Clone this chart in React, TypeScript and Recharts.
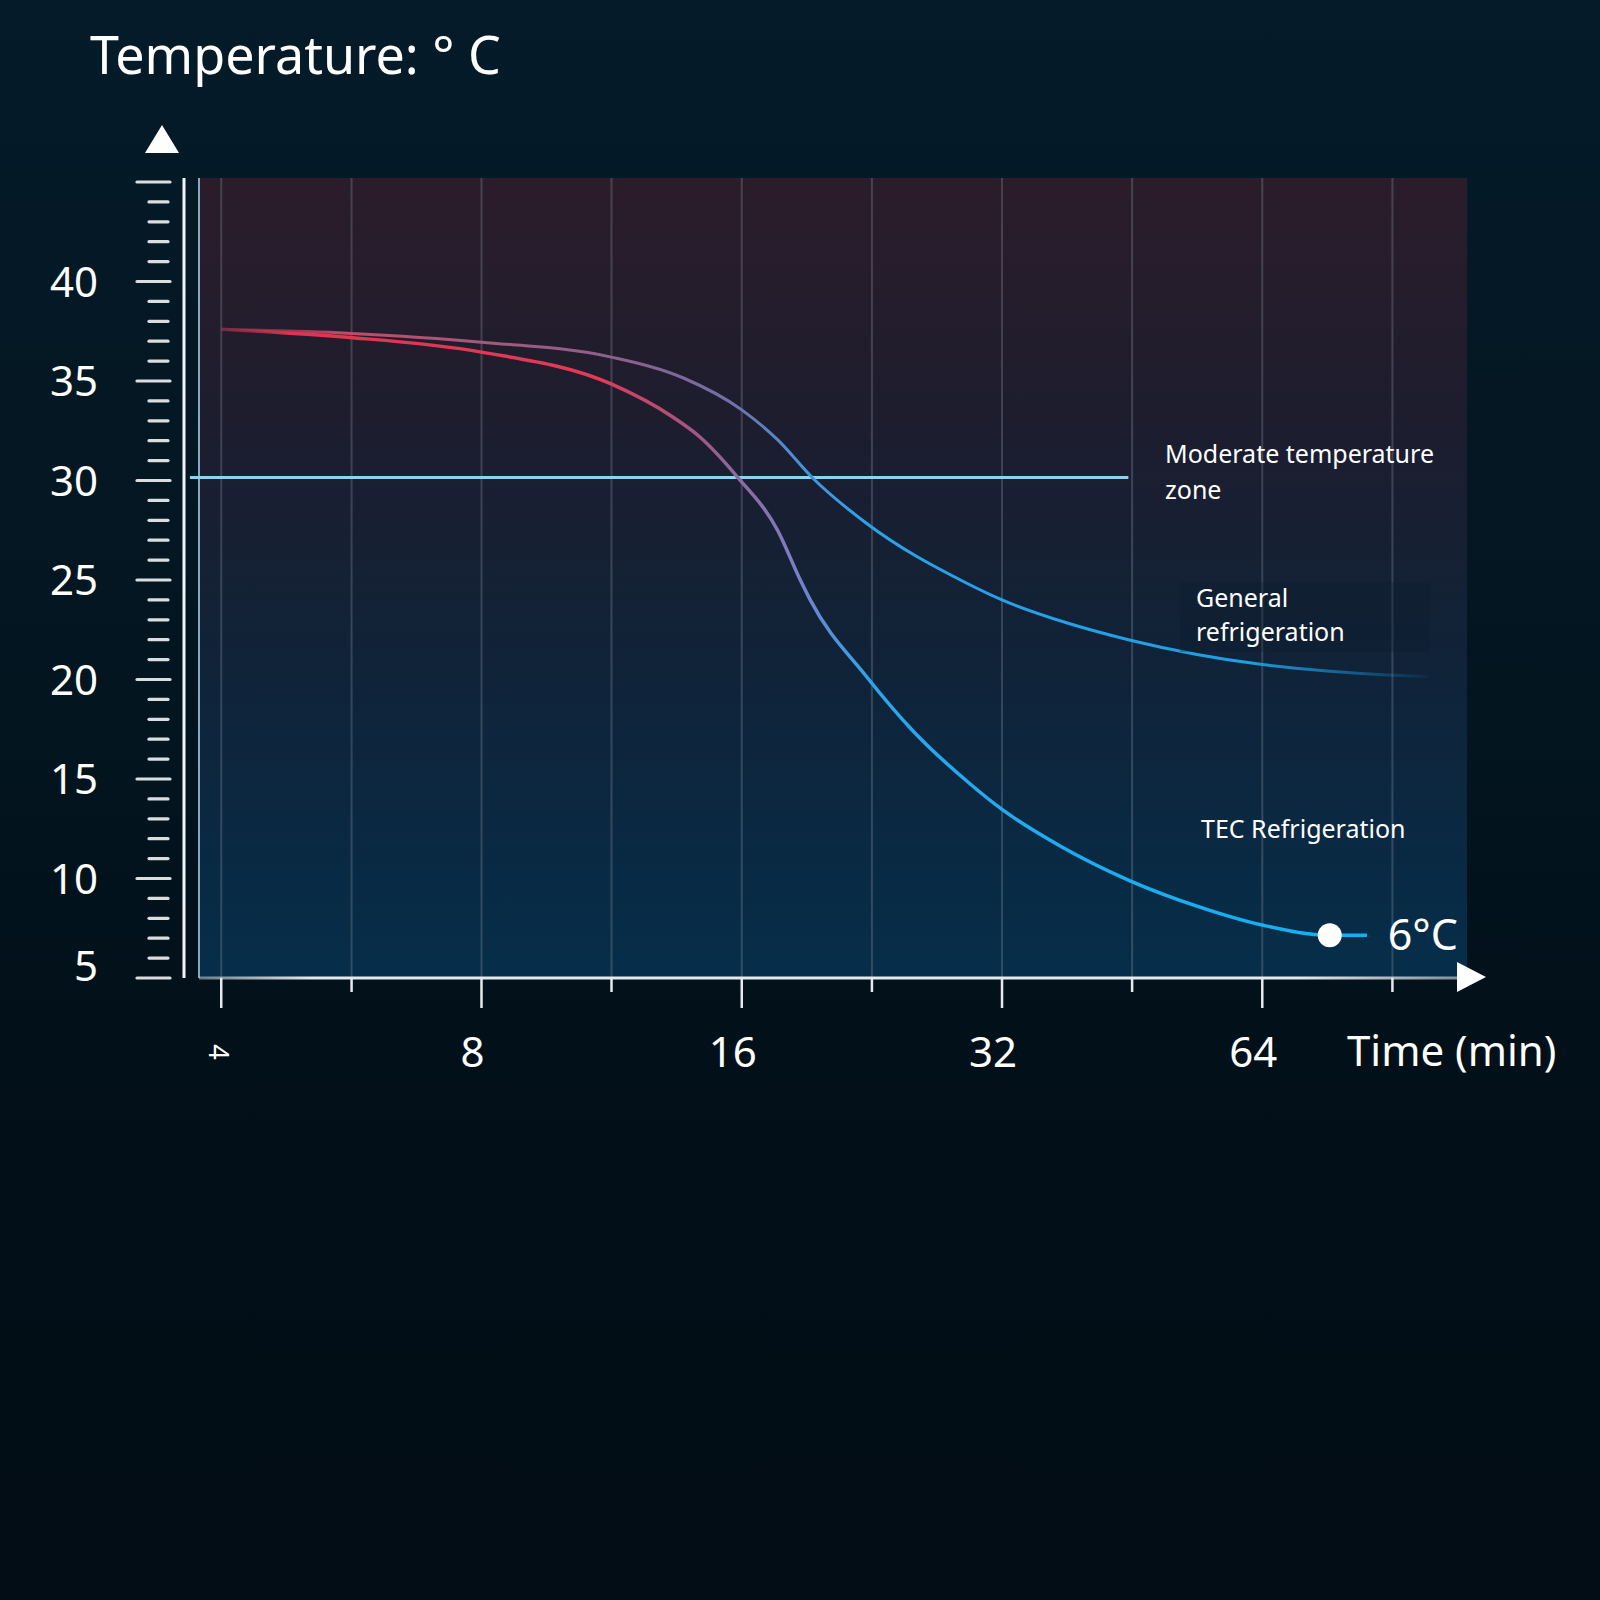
import React from "react";
import {
  ComposedChart,
  Line,
  XAxis,
  YAxis,
  CartesianGrid,
  ReferenceLine,
  ReferenceDot,
} from "recharts";

// TEC refrigeration curve (time in min, temperature in °C)
const tecTime = [4, 5.59, 8, 11.3, 13.3, 14.3, 15.8, 17.6, 18.7, 19.2, 22.3, 25.2, 29.4, 32, 37.4, 44.8, 54.2, 64, 76.6, 84.6];
const tecTemp = [37.6, 37.2, 36.45, 34.85, 33.2, 32.2, 30.2, 27.5, 25.0, 24.0, 20.15, 17.45, 14.75, 13.47, 11.62, 9.92, 8.56, 7.66, 7.15, 7.15];

// general refrigeration curve
const generalTime = [4, 5.59, 8, 11.3, 13.7, 16, 17.6, 19.3, 22.3, 29.1, 32, 38, 44.8, 64, 76, 89.4, 99.6];
const generalTemp = [37.6, 37.4, 36.95, 36.2, 35.15, 33.55, 32.05, 30.15, 27.85, 24.85, 24.0, 22.85, 22.0, 20.75, 20.43, 20.23, 20.15];

const timeTicks = [4, 5.66, 8, 11.31, 16, 22.63, 32, 45.25, 64, 90.51];
const timeLabels = [4, 8, 16, 32, 64];
const tempLabels = [5, 10, 15, 20, 25, 30, 35, 40];
const gridTemps = [10, 15, 20, 25, 30, 35, 40];
const rulerTicks = Array.from({ length: 41 }, (_, i) => 5 + i);

const moderateZone = 30.15;
const zoneEnd = 44.8;
const finalPoint = { t: 76.6, v: 7.15, label: "6°C" };

const FONT = "'Noto Sans', sans-serif";

const tecData = tecTime.map((t, i) => ({ t, v: tecTemp[i] }));
const generalData = generalTime.map((t, i) => ({ t, v: generalTemp[i] }));

const TimeTick = (props: any) => {
  const { x, y, payload } = props;
  const v = payload.value;
  const major = timeLabels.includes(v);
  return (
    <g>
      <line x1={x} x2={x} y1={y} y2={y + (major ? 30 : 14)} stroke="#e6eaee" strokeWidth={2.5} />
      {major && v === 4 && (
        <text
          transform={`translate(${x - 3},${y + 74}) rotate(90)`}
          textAnchor="middle"
          dy="0.36em"
          fontSize={27}
          fill="#fff"
          fontFamily={FONT}
        >
          {v}
        </text>
      )}
      {major && v !== 4 && (
        <text x={x - 9} y={y + 74} dy="0.36em" textAnchor="middle" fontSize={42} fill="#fff" fontFamily={FONT}>
          {v}
        </text>
      )}
    </g>
  );
};

const RulerTick = (props: any) => {
  const { x, y, payload } = props;
  const v = payload.value;
  const major = v % 5 === 0;
  return (
    <g>
      <line
        x1={x - (major ? 47 : 35)}
        x2={x - (major ? 14 : 16)}
        y1={y}
        y2={y}
        stroke="#d9dee3"
        strokeWidth={3.2}
        strokeLinecap="round"
      />
      {tempLabels.includes(v) && (
        <text
          x={x - 86}
          y={y + (v === 5 ? -12 : 0)}
          dy="0.36em"
          textAnchor="end"
          fontSize={42}
          fill="#fff"
          fontFamily={FONT}
        >
          {v}
        </text>
      )}
    </g>
  );
};

export default function App() {
  return (
    <div
      style={{
        position: "absolute",
        left: 0,
        top: 0,
        width: 1600,
        height: 1600,
        background: "linear-gradient(180deg, #051b29 0%, #03151f 45%, #020f18 70%, #020d15 100%)",
        fontFamily: FONT,
      }}
    >
      <ComposedChart
        width={1600}
        height={1600}
        margin={{ top: 178, right: 133, bottom: 0, left: 0 }}
      >
        <defs>
          <linearGradient id="plotBg" x1="0" y1="0" x2="0" y2="1">
            <stop offset="0%" stopColor="#2b1c2a" />
            <stop offset="30%" stopColor="#1d1d2e" />
            <stop offset="62%" stopColor="#0f2339" />
            <stop offset="100%" stopColor="#062e4a" />
          </linearGradient>
          <linearGradient id="tecGrad" x1="0" y1="0" x2="1" y2="0">
            <stop offset="0%" stopColor="#c83050" stopOpacity={0.3} />
            <stop offset="6%" stopColor="#e0344f" />
            <stop offset="33%" stopColor="#e23a58" />
            <stop offset="42%" stopColor="#9b5a86" />
            <stop offset="50%" stopColor="#7c7ec4" />
            <stop offset="57%" stopColor="#2aa6ec" />
            <stop offset="100%" stopColor="#0fb2f6" />
          </linearGradient>
          <linearGradient id="generalGrad" x1="0" y1="0" x2="1" y2="0">
            <stop offset="0%" stopColor="#b04060" stopOpacity={0.3} />
            <stop offset="10%" stopColor="#c24a68" />
            <stop offset="22%" stopColor="#a15a7c" />
            <stop offset="35%" stopColor="#86638f" />
            <stop offset="42%" stopColor="#7270a8" />
            <stop offset="48%" stopColor="#4a90d8" />
            <stop offset="53%" stopColor="#2ca2ea" />
            <stop offset="85%" stopColor="#1e9ee4" />
            <stop offset="100%" stopColor="#1e9ee4" stopOpacity={0.05} />
          </linearGradient>
          <linearGradient id="xAxisGrad" gradientUnits="userSpaceOnUse" x1="150" y1="0" x2="1500" y2="0">
            <stop offset="0%" stopColor="#ffffff" stopOpacity={0.2} />
            <stop offset="12%" stopColor="#ffffff" stopOpacity={0.9} />
            <stop offset="85%" stopColor="#ffffff" stopOpacity={0.9} />
            <stop offset="100%" stopColor="#ffffff" stopOpacity={0.4} />
          </linearGradient>
        </defs>
        <CartesianGrid
          fill="url(#plotBg)"
          fillOpacity={1}
          stroke="#8a93a0"
          strokeOpacity={0.32}
          strokeWidth={2}
          horizontal={false}
          verticalValues={timeTicks}
        />
        <CartesianGrid
          stroke="#9098a4"
          strokeOpacity={0.48}
          strokeWidth={2}
          vertical={false}
          horizontalValues={gridTemps}
        />
        <XAxis
          dataKey="t"
          type="number"
          scale="log"
          domain={[3.77, 110.4]}
          allowDataOverflow
          ticks={timeTicks}
          interval={0}
          height={622}
          tickSize={0}
          tickMargin={0}
          tick={<TimeTick />}
          axisLine={{ stroke: "url(#xAxisGrad)", strokeWidth: 3 }}
          tickLine={false}
        />
        <YAxis
          type="number"
          domain={[5, 45.2]}
          allowDataOverflow
          width={15}
          tick={false}
          tickLine={false}
          axisLine={{ stroke: "#a8cbe0", strokeWidth: 2, strokeOpacity: 0.8 }}
        />
        <YAxis
          yAxisId="ruler"
          type="number"
          domain={[5, 45.2]}
          allowDataOverflow
          width={184}
          ticks={rulerTicks}
          interval={0}
          tickSize={0}
          tickMargin={0}
          tick={<RulerTick />}
          tickLine={false}
          axisLine={{ stroke: "#f2f5f7", strokeWidth: 3 }}
        />
        <ReferenceLine
          segment={[
            { x: 3.68, y: moderateZone },
            { x: zoneEnd, y: moderateZone },
          ]}
          stroke="#8fd3f4"
          strokeWidth={3}
          ifOverflow="visible"
        />
        <Line
          data={generalData}
          dataKey="v"
          type="monotone"
          dot={false}
          stroke="url(#generalGrad)"
          strokeWidth={3}
          isAnimationActive={false}
        />
        <Line
          data={tecData}
          dataKey="v"
          type="monotone"
          dot={false}
          stroke="url(#tecGrad)"
          strokeWidth={3.5}
          isAnimationActive={false}
        />
        <ReferenceDot
          x={finalPoint.t}
          y={finalPoint.v}
          r={12}
          fill="#ffffff"
          stroke="none"
          ifOverflow="visible"
          label={{
            value: finalPoint.label,
            position: "right",
            offset: 46,
            fill: "#ffffff",
            fontSize: 43,
            fontFamily: FONT,
          }}
        />
      </ComposedChart>
      <svg
        width={1600}
        height={1600}
        style={{ position: "absolute", left: 0, top: 0, pointerEvents: "none" }}
        fontFamily={FONT}
      >
        <text x={90} y={74} fontSize={52} fill="#ffffff">
          Temperature: ° C
        </text>
        <polygon points="162,125 145,153 179,153" fill="#ffffff" />
        <polygon points="1457,962 1486,977 1457,992" fill="#ffffff" />
        <text x={1347} y={1066} fontSize={42} fill="#ffffff">
          Time (min)
        </text>
        <rect x={1180} y={582} width={250} height={70} fill="#0d1a2b" opacity={0.3} />
        <g fontSize={25} fill="#ffffff">
          <text x={1165} y={463}>Moderate temperature</text>
          <text x={1165} y={499}>zone</text>
          <text x={1196} y={607}>General</text>
          <text x={1196} y={641}>refrigeration</text>
          <text x={1201} y={838}>TEC Refrigeration</text>
        </g>
      </svg>
    </div>
  );
}
